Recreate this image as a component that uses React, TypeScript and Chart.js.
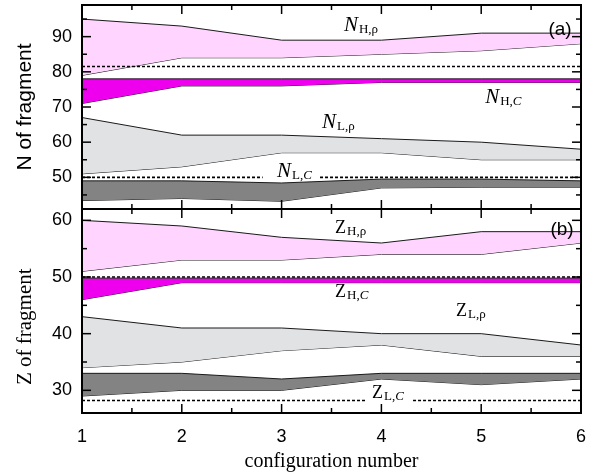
import React, { useEffect, useRef } from 'react';
import { Chart, registerables } from 'chart.js';

Chart.register(...registerables);

// ---------- data ----------
const configNumbers = [1, 2, 3, 4, 5, 6];

const xMajorTicks = [1, 2, 3, 4, 5, 6];
const xMinorTicks = [1.5, 2.5, 3.5, 4.5, 5.5];
const nMajorTicks = [50, 60, 70, 80, 90];
const nMinorTicks = [45, 55, 65, 75, 85, 95];
const zMajorTicks = [30, 40, 50, 60];
const zMinorTicks = [35, 45, 55];

// panel (a): neutron number of fragments
const nHrhoUpper = [95, 93, 89, 89, 91, 91];
const nHrhoLower = [79, 84, 84, 85, 86, 88];
const nHcUpper = [78, 78, 78, 78, 78, 78];
const nHcLower = [71, 76, 76, 77, 77, 77];
const nLrhoUpper = [67, 62, 62, 61, 60, 58];
const nLrhoLower = [51, 53, 57, 57, 55, 55];
const nLcUpper = [49, 49, 48.4, 49.5, 49.5, 49];
const nLcLower = [43.4, 44, 43.2, 47, 47.2, 47.2];
const nHDashedX = [1, 6];
const nHDashedY = [81.5, 81.5];
const nLDashedX = [1, 2.81, 3.1, 3.385, 6];
const nLDashedY = [50, 50, null, 50, 50];

// panel (b): proton number of fragments
const zHrhoUpper = [60, 59, 57, 56, 58, 58];
const zHrhoLower = [51, 53, 53, 54, 54, 56];
const zHcUpper = [49.8, 49.8, 49.8, 49.8, 49.8, 49.8];
const zHcLower = [46, 49, 49, 49, 49, 49];
const zLrhoUpper = [43, 41, 41, 40, 40, 38];
const zLrhoLower = [34, 35, 37, 38, 36, 36];
const zLcUpper = [33, 33, 32, 33, 33, 33];
const zLcLower = [29, 30, 30, 32, 31, 32];
const zHDashedX = [1, 6];
const zHDashedY = [50, 50];
const zLDashedX = [1, 3.836, 4.0, 4.317, 6];
const zLDashedY = [28.2, 28.2, null, 28.2, 28.2];

// ---------- styling ----------
const PINK = '#ffd4ff';
const MAGENTA = '#ee00ee';
const LIGHTGRAY = '#e1e2e4';
const DARKGRAY = '#838383';
const EDGE = '#1a1a1a';
const SANS = 'Liberation Sans';
const SERIF = 'Liberation Serif';

type SubPart = [string, boolean];
const seriesLabels: { axis: string; x: number; y: number; main: string; italic: boolean; size: number; sub: SubPart[] }[] = [
  { axis: 'yA', x: 3.625, y: 91.5, main: 'N', italic: true, size: 21, sub: [['H,ρ', false]] },
  { axis: 'yA', x: 5.04, y: 71.1, main: 'N', italic: true, size: 21, sub: [['H,', false], ['C', true]] },
  { axis: 'yA', x: 3.405, y: 64.0, main: 'N', italic: true, size: 21, sub: [['L,ρ', false]] },
  { axis: 'yA', x: 2.954, y: 50.2, main: 'N', italic: true, size: 21, sub: [['L,', false], ['C', true]] },
  { axis: 'yB', x: 3.535, y: 57.76, main: 'Z', italic: false, size: 18, sub: [['H,ρ', false]] },
  { axis: 'yB', x: 3.535, y: 46.5, main: 'Z', italic: false, size: 18, sub: [['H,', false], ['C', true]] },
  { axis: 'yB', x: 4.747, y: 43.2, main: 'Z', italic: false, size: 18, sub: [['L,ρ', false]] },
  { axis: 'yB', x: 3.906, y: 28.6, main: 'Z', italic: false, size: 18, sub: [['L,', false], ['C', true]] },
];
const panelLabels = [
  { axis: 'yA', x: 5.79, y: 92.1, text: '(a)' },
  { axis: 'yB', x: 5.81, y: 58.4, text: '(b)' },
];

const pts = (xs: number[], ys: (number | null)[]) => xs.map((x, i) => ({ x, y: ys[i] }));
const cfgPts = (ys: number[]) => pts(configNumbers, ys);

function band(upper: number[], lower: number[], color: string, axis: string) {
  const common = {
    yAxisID: axis,
    borderColor: EDGE,
    borderWidth: 1,
    pointRadius: 0,
    tension: 0,
  };
  return [
    { ...common, data: cfgPts(upper), backgroundColor: color, fill: '+1' },
    { ...common, data: cfgPts(lower), backgroundColor: color, fill: false },
  ];
}

function dashed(xs: number[], ys: (number | null)[], axis: string) {
  return {
    yAxisID: axis,
    data: pts(xs, ys),
    borderColor: '#000',
    borderWidth: 1.6,
    borderDash: [3, 2],
    pointRadius: 0,
    fill: false,
    spanGaps: false,
  };
}

function drawTicks(chart: any, ctx: CanvasRenderingContext2D) {
  const xs = chart.scales.x;
  const panels = [
    { s: chart.scales.yA, major: nMajorTicks, minor: nMinorTicks },
    { s: chart.scales.yB, major: zMajorTicks, minor: zMinorTicks },
  ];
  ctx.strokeStyle = '#000';
  ctx.lineWidth = 1.5;
  ctx.setLineDash([]);
  const line = (x1: number, y1: number, x2: number, y2: number) => {
    ctx.beginPath();
    ctx.moveTo(x1, y1);
    ctx.lineTo(x2, y2);
    ctx.stroke();
  };
  for (const p of panels) {
    const top = p.s.top, bottom = p.s.bottom, left = xs.left, right = xs.right;
    for (const v of xMajorTicks) {
      const px = xs.getPixelForValue(v);
      line(px, top, px, top + 9);
      line(px, bottom, px, bottom - 9);
    }
    for (const v of xMinorTicks) {
      const px = xs.getPixelForValue(v);
      line(px, top, px, top + 5);
      line(px, bottom, px, bottom - 5);
    }
    for (const v of p.major) {
      const py = p.s.getPixelForValue(v);
      line(left, py, left + 9, py);
      line(right, py, right - 9, py);
    }
    for (const v of p.minor) {
      const py = p.s.getPixelForValue(v);
      line(left, py, left + 5, py);
      line(right, py, right - 5, py);
    }
  }
}

const decorPlugin = {
  id: 'decor',
  afterDatasetsDraw(chart: any) {
    const ctx: CanvasRenderingContext2D = chart.ctx;
    const xs = chart.scales.x;
    ctx.save();
    drawTicks(chart, ctx);
    ctx.setLineDash([]);
    ctx.strokeStyle = '#000';
    ctx.lineWidth = 2;
    for (const id of ['yA', 'yB']) {
      const s = chart.scales[id];
      ctx.strokeRect(xs.left, s.top, xs.right - xs.left, s.bottom - s.top);
    }
    ctx.fillStyle = '#000';
    // panel labels
    ctx.textAlign = 'center';
    ctx.textBaseline = 'middle';
    ctx.font = `19px "${SANS}"`;
    for (const l of panelLabels) {
      ctx.fillText(l.text, xs.getPixelForValue(l.x), chart.scales[l.axis].getPixelForValue(l.y));
    }
    // series labels
    ctx.textAlign = 'left';
    ctx.textBaseline = 'alphabetic';
    for (const l of seriesLabels) {
      let px = xs.getPixelForValue(l.x);
      const py = chart.scales[l.axis].getPixelForValue(l.y);
      ctx.font = `${l.italic ? 'italic ' : ''}${l.size}px "${SERIF}"`;
      ctx.fillText(l.main, px, py);
      px += ctx.measureText(l.main).width + 1;
      for (const [t, it] of l.sub) {
        ctx.font = `${it ? 'italic ' : ''}13px "${SERIF}"`;
        ctx.fillText(t, px, py + 2);
        px += ctx.measureText(t).width;
      }
    }
    ctx.restore();
  },
};

function yAxis(min: number, max: number, ticks: number[], title: string, titleFont: any) {
  return {
    type: 'linear',
    position: 'left',
    stack: 'panels',
    stackWeight: 1,
    min,
    max,
    afterBuildTicks: (s: any) => {
      s.ticks = ticks.map((v) => ({ value: v }));
    },
    afterFit: (s: any) => {
      s.width = 82;
      s.paddingTop = 0;
      s.paddingBottom = 0;
    },
    grid: { display: false, drawTicks: false },
    border: { display: false },
    ticks: { padding: 10, color: '#000', font: { family: SANS, size: 18 } },
    title: { display: true, text: title, color: '#000', font: titleFont, padding: { top: 13, bottom: 0 } },
  };
}

export default function App() {
  const ref = useRef<HTMLCanvasElement>(null);
  useEffect(() => {
    if (!ref.current) return;
    const datasets: any[] = [
      dashed(nHDashedX, nHDashedY, 'yA'),
      dashed(nLDashedX, nLDashedY, 'yA'),
      dashed(zHDashedX, zHDashedY, 'yB'),
      dashed(zLDashedX, zLDashedY, 'yB'),
      ...band(nHrhoUpper, nHrhoLower, PINK, 'yA'),
      ...band(nHcUpper, nHcLower, MAGENTA, 'yA'),
      ...band(nLrhoUpper, nLrhoLower, LIGHTGRAY, 'yA'),
      ...band(nLcUpper, nLcLower, DARKGRAY, 'yA'),
      ...band(zHrhoUpper, zHrhoLower, PINK, 'yB'),
      ...band(zHcUpper, zHcLower, MAGENTA, 'yB'),
      ...band(zLrhoUpper, zLrhoLower, LIGHTGRAY, 'yB'),
      ...band(zLcUpper, zLcLower, DARKGRAY, 'yB'),
    ];
    const chart = new Chart(ref.current, {
      type: 'line',
      data: { datasets },
      plugins: [decorPlugin],
      options: {
        responsive: false,
        animation: false,
        layout: { padding: { left: 0, top: 5, right: 16, bottom: 0 } },
        plugins: { legend: { display: false }, tooltip: { enabled: false } },
        scales: {
          x: {
            type: 'linear',
            min: 1,
            max: 6,
            afterBuildTicks: (s: any) => {
              s.ticks = xMajorTicks.map((v) => ({ value: v }));
            },
            afterFit: (s: any) => {
              s.height = 62;
              s.paddingLeft = 0;
              s.paddingRight = 0;
            },
            grid: { display: false, drawTicks: false },
            border: { display: false },
            ticks: { padding: 13, color: '#000', font: { family: SANS, size: 18 }, maxRotation: 0 },
            title: {
              display: true,
              text: 'configuration number',
              color: '#000',
              font: { family: SERIF, size: 20 },
              padding: { top: 0, bottom: 1 },
            },
          },
          yB: yAxis(26, 62, zMajorTicks, 'Z of fragment\u00a0\u00a0\u00a0\u00a0\u00a0\u00a0', { family: SERIF, size: 21 }),
          yA: yAxis(41, 99, nMajorTicks, 'N of fragment', { family: SANS, size: 21 }),
        } as any,
      },
    } as any);
    return () => chart.destroy();
  }, []);
  return (
    <div style={{ position: 'fixed', left: 0, top: 0, width: 597, height: 475, background: '#fff' }}>
      <canvas ref={ref} width={597} height={475} style={{ width: 597, height: 475, display: 'block' }} />
    </div>
  );
}
